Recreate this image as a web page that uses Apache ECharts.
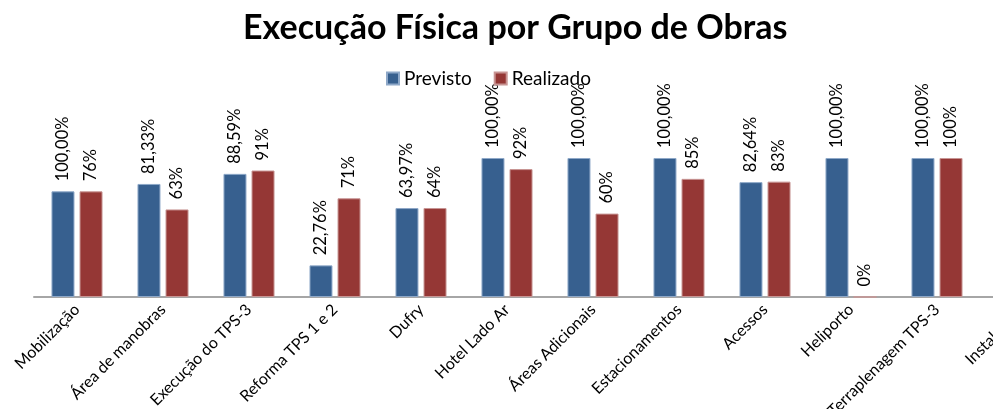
<!DOCTYPE html>
<html>
<head>
<meta charset="utf-8">
<script src="https://cdn.jsdelivr.net/npm/echarts@6/dist/echarts.min.js"></script>
<style>
  html, body { margin: 0; padding: 0; background: #fff; }
  #chart { width: 993px; height: 409px; }
</style>
</head>
<body>
<div id="chart"></div>
<script>
// categorias (a última aparece cortada na borda direita)
const categories = [
  "Mobilização", "Área de manobras", "Execução do TPS-3", "Reforma TPS 1 e 2",
  "Dufry", "Hotel Lado Ar", "Áreas Adicionais", "Estacionamentos",
  "Acessos", "Heliporto", "Terraplenagem TPS-3", "Instalações"
]
// altura das barras (%)
const previsto = [76, 81.33, 88.59, 22.76, 63.97, 100, 100, 100, 82.64, 100, 100, null]
const realizado = [76, 63, 91, 71, 64, 92, 60, 85, 83, 0, 100, null]
// rótulos exibidos acima das barras
const previstoLabels = ["100,00%", "81,33%", "88,59%", "22,76%", "63,97%", "100,00%",
  "100,00%", "100,00%", "82,64%", "100,00%", "100,00%", ""]
const realizadoLabels = ["76%", "63%", "91%", "71%", "64%", "92%", "60%", "85%",
  "83%", "0%", "100%", ""]

const font = "Lato, 'Open Sans', sans-serif"

const chart = echarts.init(document.getElementById("chart"))

const labelStyle = (texts) => ({
  show: true,
  position: "top",
  rotate: 90,
  align: "left",
  verticalAlign: "middle",
  distance: 10,
  fontFamily: font,
  fontSize: 16.5,
  color: "#000",
  formatter: (p) => texts[p.dataIndex]
})

const option = {
  animation: false,
  title: {
    text: "Execução Física por Grupo de Obras",
    left: 238,
    top: 6,
    textStyle: { fontFamily: font, fontSize: 34, fontWeight: "bold", color: "#000" }
  },
  legend: {
    top: 64,
    left: 381,
    itemWidth: 12,
    itemHeight: 12,
    itemGap: 22,
    icon: "rect",
    textStyle: { fontFamily: font, fontSize: 19, color: "#000" },
    data: ["Previsto", "Realizado"]
  },
  grid: {
    left: 34, top: 158, bottom: 112, width: 1032,
    containLabel: false, outerBoundsMode: "none"
  },
  xAxis: {
    type: "category",
    data: categories,
    axisLine: { lineStyle: { color: "#a6a6a6", width: 2 } },
    axisTick: { show: false },
    axisLabel: {
      rotate: 45,
      interval: 0,
      margin: 10,
      fontFamily: font,
      fontSize: 16,
      color: "#000"
    }
  },
  yAxis: {
    type: "value",
    min: 0,
    max: 100,
    show: false,
    splitLine: { show: false }
  },
  series: [
    {
      name: "Previsto",
      type: "bar",
      data: previsto,
      barWidth: 23,
      barGap: "22%",
      itemStyle: { color: "#37608f", borderColor: "#8ea8c8", borderWidth: 1 },
      label: labelStyle(previstoLabels)
    },
    {
      name: "Realizado",
      type: "bar",
      data: realizado,
      barWidth: 23,
      itemStyle: { color: "#953735", borderColor: "#c89594", borderWidth: 1 },
      label: labelStyle(realizadoLabels)
    }
  ]
}

chart.setOption(option)
</script>
</body>
</html>
